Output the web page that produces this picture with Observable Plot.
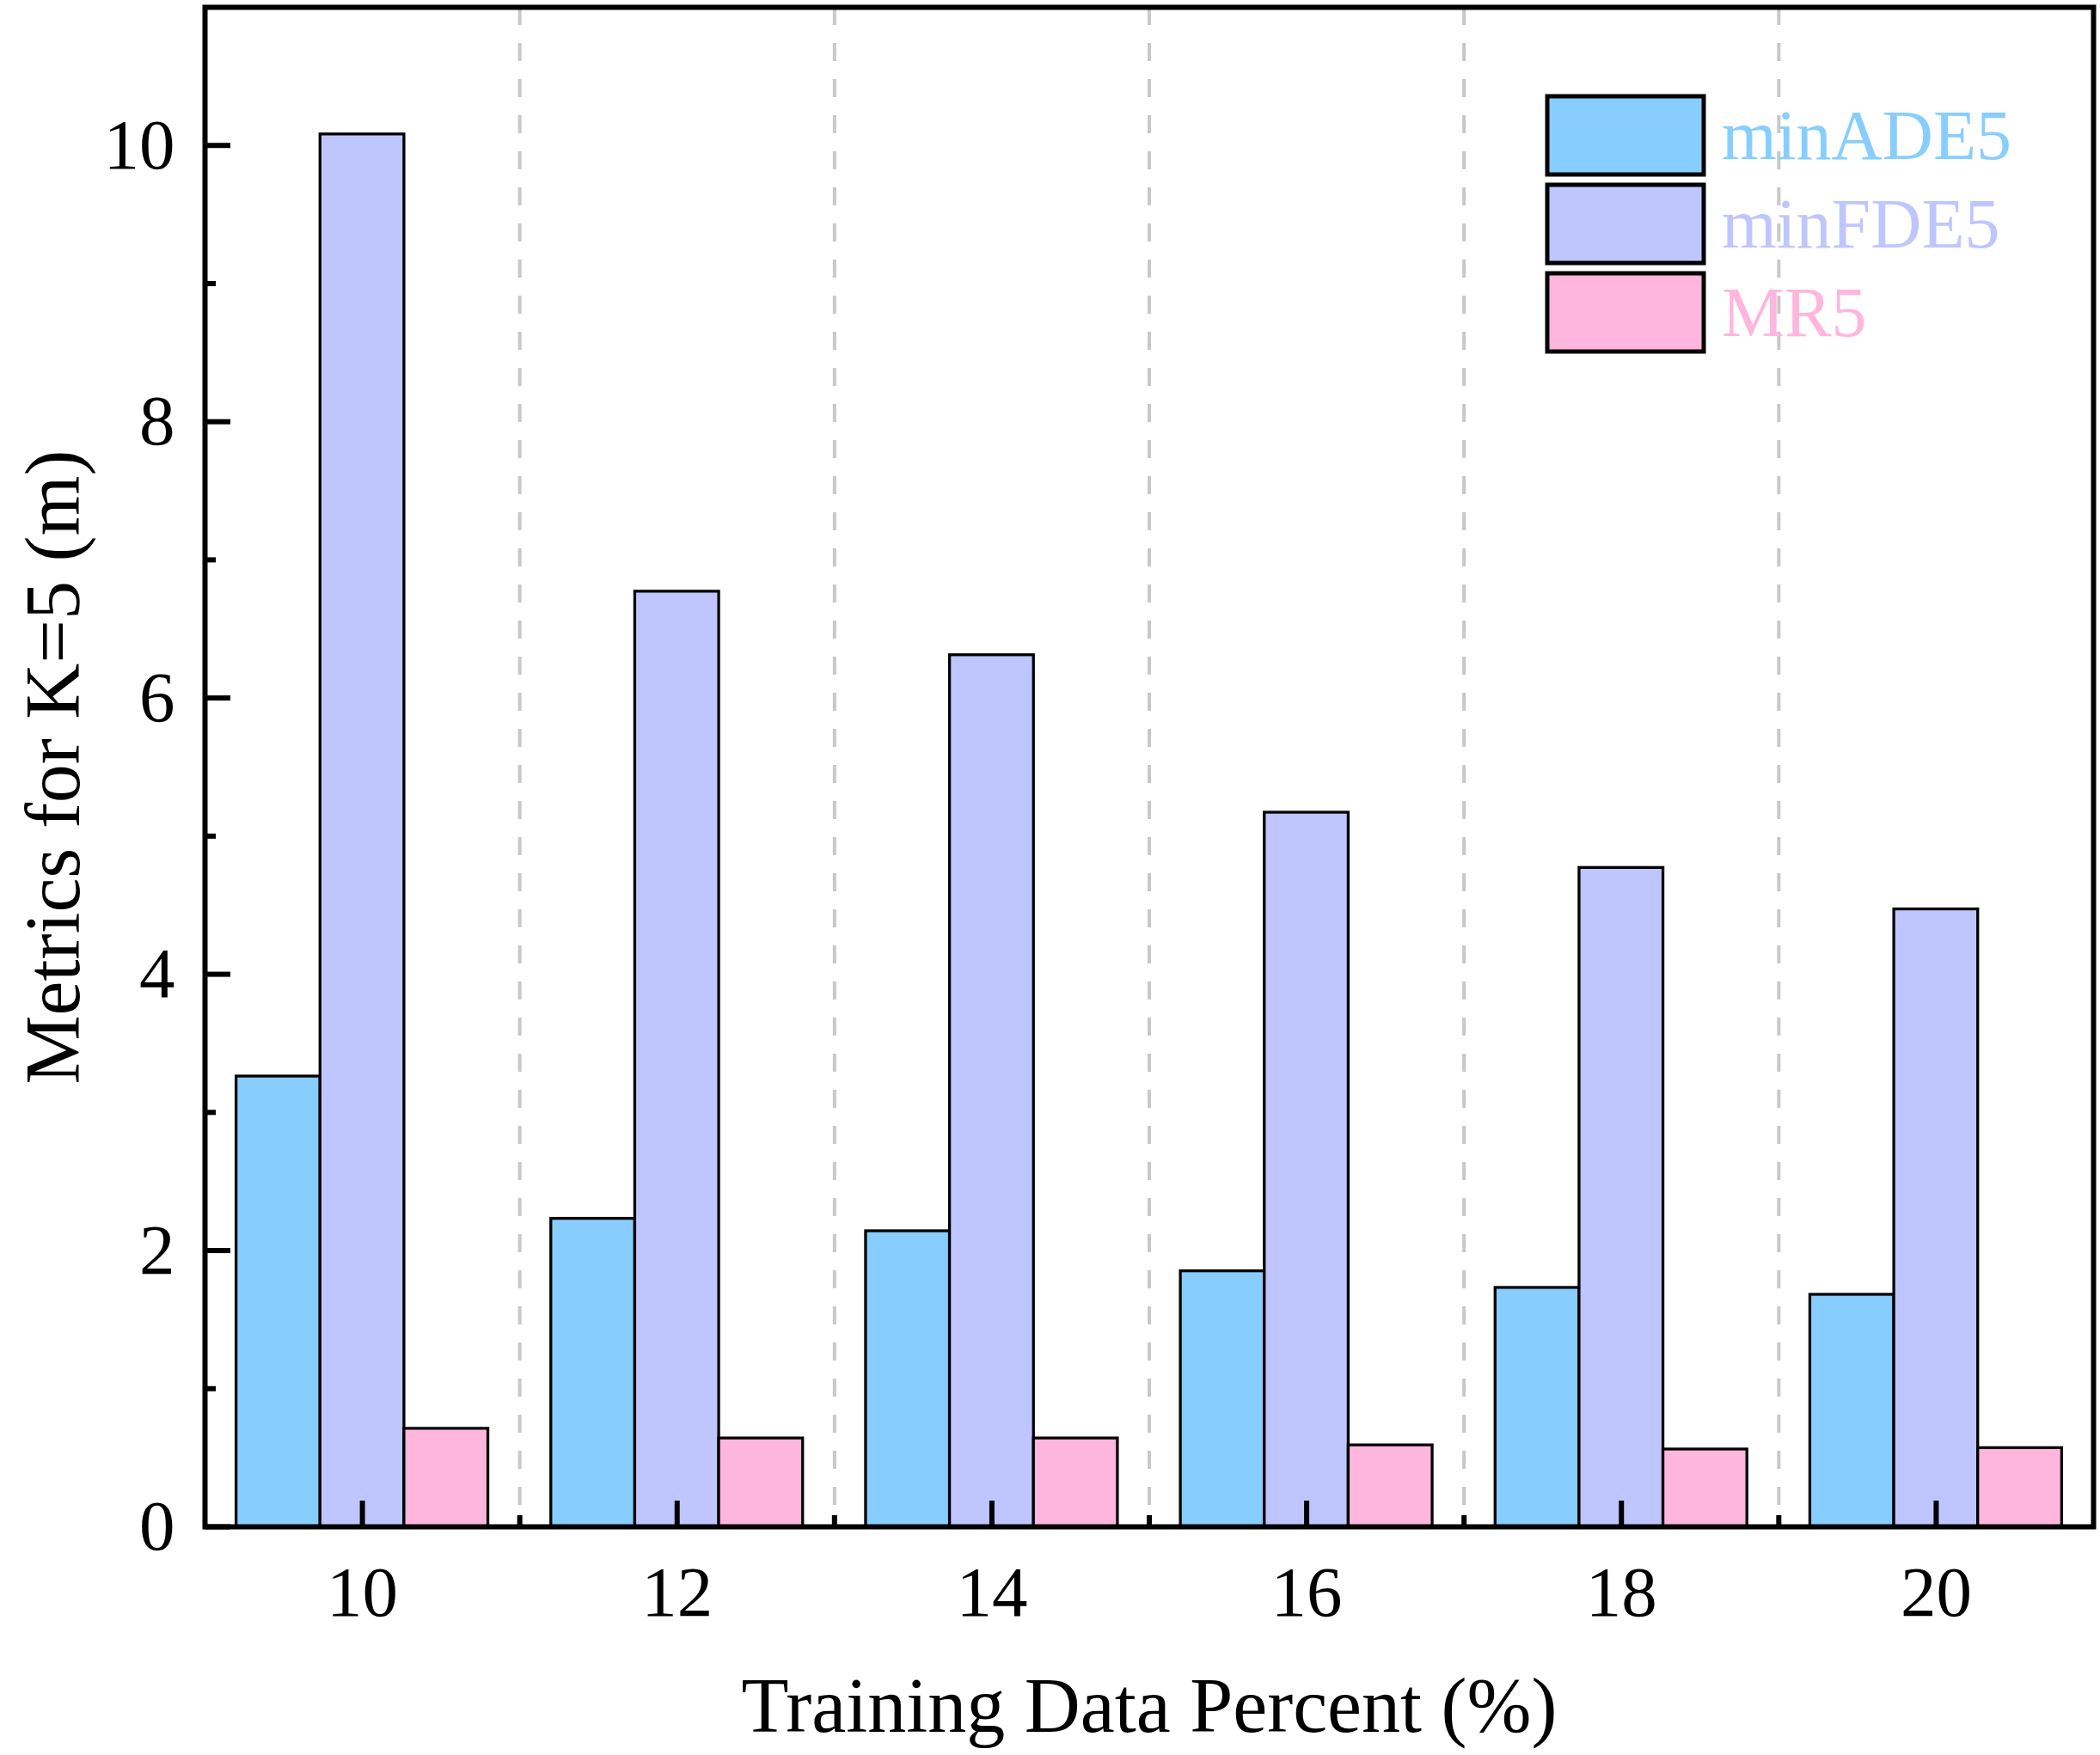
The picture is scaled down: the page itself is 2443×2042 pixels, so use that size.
<!DOCTYPE html>
<html>
<head>
<meta charset="utf-8">
<script src="https://cdn.jsdelivr.net/npm/d3@7"></script>
<script src="https://cdn.jsdelivr.net/npm/@observablehq/plot@0.6"></script>
<style>
  body { margin: 0; background: white; }
  #grafico svg { display: block; }
</style>
</head>
<body>
<div id="grafico"></div>
<script>
// datos
const percents = [10, 12, 14, 16, 18, 20];
const seriesNames = ["minADE5", "minFDE5", "MR5"];
const minADE5 = [3.26, 2.23, 2.14, 1.85, 1.73, 1.68];
const minFDE5 = [10.08, 6.77, 6.31, 5.17, 4.77, 4.47];
const MR5 = [0.71, 0.64, 0.64, 0.59, 0.56, 0.57];
const colors = ["#87CEFF", "#BFC6FF", "#FFB6DE"];
const yTicks = [0, 2, 4, 6, 8, 10];
const yMinor = [1, 3, 5, 7, 9];
const xBounds = [11, 13, 15, 17, 19];
const xTitle = "Training Data Percent (%)";
const yTitle = "Metrics for K=5 (m)";

const step = 2;                 // distancia entre grupos
const barW = step * 0.8 / 3;    // tres barras ocupan el 80% del grupo

let chartData = [];
[minADE5, minFDE5, MR5].forEach((vals, i) => {
  vals.forEach((v, j) => {
    const x1 = percents[j] - step * 0.4 + i * barW;
    chartData.push({serie: seriesNames[i], percent: percents[j], value: v, x1: x1, x2: x1 + barW});
  });
});

const font = "'Liberation Serif', 'Times New Roman', serif";

// leyenda dentro del area del grafico
function leyenda(index, scales, values, dims) {
  const g = d3.create("svg:g")
    .attr("font-family", font)
    .attr("font-size", 82)
    .attr("text-anchor", "start");
  seriesNames.forEach((name, i) => {
    const y = 112 + i * 103;
    g.append("rect")
      .attr("x", 1800).attr("y", y)
      .attr("width", 182).attr("height", 91)
      .attr("fill", colors[i])
      .attr("stroke", "black")
      .attr("stroke-width", 5);
    g.append("text")
      .attr("x", 2003).attr("y", y + 73)
      .attr("fill", colors[i])
      .text(name);
  });
  return g.node();
}

let chart = Plot.plot({
  width: 2443,
  height: 2042,
  marginLeft: 238,
  marginRight: 8,
  marginTop: 8,
  marginBottom: 266,
  style: {fontFamily: font, background: "white"},
  x: {domain: [9, 21]},
  y: {domain: [0, 11]},
  color: {domain: seriesNames, range: colors},
  marks: [
    Plot.ruleX(xBounds, {stroke: "#c8c8c8", strokeWidth: 4, strokeDasharray: "21,21"}),
    Plot.rectY(chartData, {x1: "x1", x2: "x2", y: "value", fill: "serie", stroke: "black", strokeWidth: 3.3}),
    Plot.frame({stroke: "black", strokeWidth: 6}),
    // ticks hacia adentro
    Plot.axisX(percents, {tickSize: -30, strokeWidth: 6, tickFormat: () => "", label: null}),
    Plot.axisX(xBounds, {tickSize: -13, strokeWidth: 6, tickFormat: () => "", label: null}),
    Plot.axisY(yTicks, {tickSize: -30, strokeWidth: 6, tickFormat: () => "", label: null}),
    Plot.axisY(yMinor, {tickSize: -13, strokeWidth: 6, tickFormat: () => "", label: null}),
    Plot.axisX(percents, {tickSize: 0, tickPadding: 45, fontSize: 83, tickFormat: d => d, label: null}),
    Plot.axisY(yTicks, {tickSize: 0, tickPadding: 35, fontSize: 83, tickFormat: d => d, label: null}),
    Plot.text([xTitle], {frameAnchor: "bottom", dy: 175, lineAnchor: "top", textAnchor: "middle", fontSize: 90}),
    Plot.text([yTitle], {frameAnchor: "left", dx: -175, rotate: -90, lineAnchor: "middle", textAnchor: "middle", fontSize: 90}),
    leyenda
  ]
});

d3.select('#grafico svg').remove();
d3.select('#grafico').append(() => chart);
</script>
</body>
</html>
